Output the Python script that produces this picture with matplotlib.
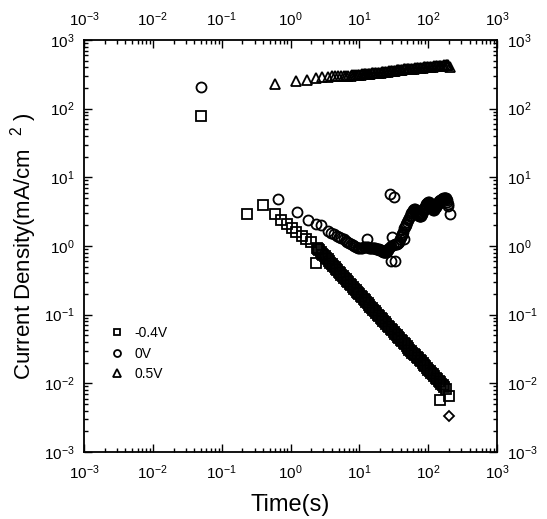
import matplotlib
matplotlib.use("Agg")
import matplotlib.pyplot as plt
from matplotlib.ticker import FixedLocator, NullFormatter, LogFormatterSciNotation
from matplotlib.lines import Line2D

plt.rcParams['font.family'] = ['Liberation Sans', 'DejaVu Sans']
plt.rcParams['mathtext.fontset'] = 'custom'
plt.rcParams['mathtext.rm'] = 'Liberation Sans'
plt.rcParams['mathtext.it'] = 'Liberation Sans:italic'
plt.rcParams['mathtext.bf'] = 'Liberation Sans:bold'

# ---------------- data ----------------
# -0.4 V (squares)
t_neg = [0.05, 0.23, 0.40, 0.60, 0.74, 0.88, 1.04, 1.22, 1.45, 1.70, 2.00, 2.33,
         2.4, 2.5, 2.6, 2.75, 2.9, 3.0, 3.15, 3.3, 3.45, 3.6, 3.8, 4.0, 4.2, 4.4, 4.6,
         4.8, 5.0, 5.25, 5.5, 5.75, 6.0, 6.3, 6.6, 6.9, 7.2, 7.6, 8.0, 8.4, 8.8, 9.2,
         9.6, 10, 10.5, 11, 11.5, 12, 12.6, 13.2, 13.8, 14.5, 15.2, 16, 16.8, 17.6,
         18.5, 19.4, 20.4, 21.4, 22.4, 23.5, 24.7, 26, 27.3, 28.6, 30, 31.5, 33, 34.7,
         36.4, 38.2, 40, 42, 44, 46.3, 48.6, 51, 53.5, 56, 59, 62, 65, 68, 71.5, 75,
         79, 83, 87, 91, 96, 101, 106, 111, 117, 123, 129, 135, 142, 148, 149, 156,
         164, 172, 180, 204]
j_neg = [79, 2.92, 3.9, 2.92, 2.4, 2.1, 1.83, 1.58, 1.41, 1.27, 1.13, 0.56,
         0.95, 0.91, 0.87, 0.82, 0.77, 0.745, 0.705, 0.67, 0.64, 0.61, 0.575, 0.54,
         0.515, 0.49, 0.465, 0.445, 0.425, 0.40, 0.38, 0.365, 0.345, 0.33, 0.31,
         0.297, 0.284, 0.268, 0.253, 0.24, 0.228, 0.217, 0.207, 0.198, 0.188, 0.178,
         0.17, 0.162, 0.153, 0.146, 0.139, 0.131, 0.125, 0.118, 0.112, 0.106, 0.1,
         0.095, 0.09, 0.086, 0.082, 0.077, 0.073, 0.069, 0.066, 0.062, 0.059, 0.056,
         0.053, 0.05, 0.048, 0.045, 0.043, 0.041, 0.039, 0.037, 0.035, 0.033, 0.031,
         0.03, 0.028, 0.027, 0.0255, 0.0243, 0.023, 0.022, 0.0208, 0.0197, 0.0187,
         0.0178, 0.0168, 0.0159, 0.015, 0.0143, 0.0135, 0.0128, 0.0121, 0.0115,
         0.0109, 0.0058, 0.0103, 0.0098, 0.0093, 0.0088, 0.0083, 0.0066]

# 0 V (circles)
t_zero = [0.05, 0.66, 1.26, 1.8, 2.38, 2.8, 3.5, 3.9, 4.3, 4.7, 5.1, 5.5, 5.9, 6.3,
          6.7, 7.1, 7.5, 8.0, 8.5, 9.0, 9.5, 10.0, 10.5, 11.0, 11.5, 12.0, 12.8,
          13.0, 13.5, 14.0, 14.5, 15.0, 15.5, 16.0, 16.5, 17.0, 17.5, 18.0, 18.5,
          19.0, 19.5, 20.0, 20.5, 21.0, 21.5, 22.0, 22.5, 23.0, 23.5, 24.0, 24.5,
          25.0, 25.5, 26.0, 26.5, 27.0, 28.0, 28.7, 29.0, 30.0, 31.0, 32.0, 32.6,
          33.0, 34.0, 35.0, 36.0, 37.0, 38.0, 39.0, 40.0, 41.0, 42.0, 43.0, 44.0,
          45.0, 46.0, 47.0, 48.0, 49.5, 51.0, 52.5, 54.0, 55.5, 57.0, 58.5, 60.0,
          61.5, 63.0, 64.5, 66.0, 67.5, 69.0, 70.5, 72.0, 73.5, 75.0, 76.5, 78.0,
          79.5, 81.0, 82.5, 84.0, 86.0, 88.0, 90.0, 92.0, 94.0, 96.0, 98.0, 100,
          102, 104, 106, 108, 110, 112, 114, 116, 118, 120, 122, 125, 128, 131,
          134, 137, 140, 143, 146, 149, 152, 155, 158, 161, 164, 167, 170, 173,
          176, 179, 182, 185, 188, 191, 194, 207]
j_zero = [209, 4.8, 3.1, 2.4, 2.1, 2.0, 1.64, 1.56, 1.49, 1.42, 1.36, 1.3, 1.25,
          1.2, 1.16, 1.12, 1.08, 1.04, 1.0, 0.97, 0.94, 0.92, 0.93, 0.95, 0.97,
          0.97, 1.27, 0.96, 0.96, 0.95, 0.95, 0.94, 0.94, 0.93, 0.93, 0.92, 0.91,
          0.9, 0.9, 0.89, 0.88, 0.87, 0.86, 0.85, 0.84, 0.83, 0.83, 0.82, 0.82,
          0.81, 0.82, 0.84, 0.86, 0.88, 0.9, 0.93, 5.7, 0.61, 1.0, 1.34, 1.05, 5.2,
          0.6, 1.08, 1.08, 1.08, 1.09, 1.1, 1.15, 1.25, 1.35, 1.45, 1.52, 1.6, 1.28,
          1.8, 1.9, 2.0, 2.1, 2.25, 2.4, 2.55, 2.7, 2.85, 3.0, 3.15, 3.3, 3.4, 3.5,
          3.45, 3.3, 3.15, 3.0, 2.9, 2.8, 2.75, 2.7, 2.7, 2.75, 2.8, 2.9, 3.05, 3.2,
          3.4, 3.6, 3.75, 3.9, 4.05, 4.2, 4.3, 4.4, 4.35, 4.25, 4.1, 3.95, 3.8, 3.65,
          3.55, 3.45, 3.4, 3.4, 3.45, 3.55, 3.7, 3.85, 4.0, 4.15, 4.3, 4.45, 4.55,
          4.65, 4.7, 4.75, 4.8, 4.85, 4.9, 4.95, 5.0, 5.05, 5.05, 5.0, 4.9, 4.7,
          4.4, 4.1, 3.8, 2.93]

# 0.5 V (triangles)
t_pos = [0.6, 1.2, 1.75, 2.35, 2.9, 3.45, 3.95, 4.45, 4.95, 5.45, 5.95, 6.45,
         6.95, 7.45, 7.95, 8.45, 8.95, 9.45, 9.95, 10.5, 11, 11.5, 12, 12.6, 13.2,
         13.8, 14.5, 15.2, 16, 16.8, 17.6, 18.5, 19.4, 20.4, 21.4, 22.4, 23.5, 24.7,
         26, 27.3, 28.6, 30, 31.5, 33, 34.7, 36.4, 38.2, 40, 42, 44, 46.3, 48.6, 51,
         53.5, 56, 59, 62, 65, 68, 71.5, 75, 79, 83, 87, 91, 96, 101, 106, 111, 117,
         123, 129, 135, 142, 149, 156, 164, 172, 180, 188, 196, 205]
j_pos = [232, 254, 262, 283, 292, 294, 295, 297, 298, 299, 300, 301, 302, 304,
         306, 307, 309, 310, 312, 313, 315, 316, 318, 319, 321, 323, 325, 327, 328,
         330, 332, 333, 334, 336, 338, 340, 342, 344, 347, 349, 352, 355, 357, 359,
         361, 364, 366, 368, 370, 372, 374, 375, 377, 378, 380, 382, 384, 386, 389,
         391, 393, 395, 397, 399, 401, 403, 405, 407, 409, 411, 413, 415, 417, 419,
         421, 423, 425, 426, 427, 428, 428, 405]

# stray point (diamond)
t_dia = [204]
j_dia = [0.0034]

labels = ['-0.4V', '0V', '0.5V']
decades = [1e-3, 1e-2, 1e-1, 1e0, 1e1, 1e2, 1e3]
minor_subs = [2, 3, 4, 5, 6, 7, 8, 9]

# ---------------- figure ----------------
fig = plt.figure(figsize=(5.47, 5.19), dpi=100)
L, R, T, B = 84, 497, 40, 452
ax = fig.add_axes([L/547, 1 - B/519, (R - L)/547, (B - T)/519])

mk = dict(linestyle='none', markerfacecolor='none', markeredgecolor='black',
          markeredgewidth=1.3)
ax.plot(t_neg, j_neg, marker='s', markersize=6.6, **mk)
ax.plot(t_zero, j_zero, marker='o', markersize=7.2, **mk)
ax.plot(t_pos, j_pos, marker='^', markersize=7.6, **mk)
ax.plot(t_dia, j_dia, marker='D', markersize=5.2, **mk)

ax.set_xscale('log')
ax.set_yscale('log')
ax.set_xlim(decades[0], decades[-1])
ax.set_ylim(decades[0], decades[-1])

minors = [d * s for d in decades[:-1] for s in minor_subs]
for axis in (ax.xaxis, ax.yaxis):
    axis.set_major_locator(FixedLocator(decades))
    axis.set_major_formatter(LogFormatterSciNotation())
    axis.set_minor_locator(FixedLocator(minors))
    axis.set_minor_formatter(NullFormatter())

ax.tick_params(which='both', direction='in', top=True, right=True,
               labeltop=True, labelright=True, width=1.0, colors='black',
               labelsize=11)
ax.tick_params(which='major', length=5.5, pad=7)
ax.tick_params(axis='x', which='major', pad=8)
ax.tick_params(which='minor', length=2.8)
for s in ax.spines.values():
    s.set_linewidth(1.3)

ax.set_xlabel('Time(s)', fontsize=17, labelpad=9)
ax.set_ylabel(r'Current Density(mA/cm$^{\ \ \ 2}$ )', fontsize=16, labelpad=3)

handles = [Line2D([], [], marker=m, markersize=s, **mk)
           for m, s in (('s', 5.0), ('o', 5.0), ('^', 5.6))]
ax.legend(handles, labels, loc='upper left', bbox_to_anchor=(0.064, 0.305),
          frameon=False, fontsize=10, handlelength=1.0, handletextpad=0.7,
          labelspacing=0.45, borderpad=0, borderaxespad=0)

fig.savefig('out.png', dpi=100)
